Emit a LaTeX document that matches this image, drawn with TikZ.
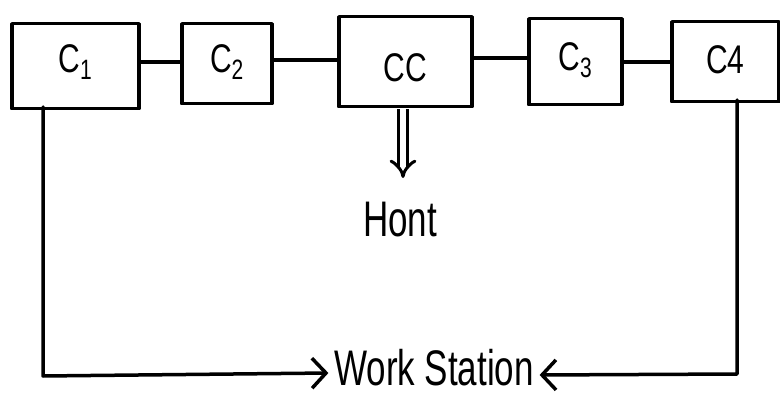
\documentclass[tikz,border=0pt]{standalone}
\usepackage{fontspec}
\setmainfont{Liberation Sans}
\usetikzlibrary{arrows.meta}
\newcommand{\csub}[1]{C\raisebox{-7pt}{\fontsize{28}{28}\selectfont #1}}
\begin{document}
\begin{tikzpicture}[x=1pt,y=-1pt,
  line width=3.5pt, line cap=round, line join=round,
  comp/.style={draw, line width=3.5pt, inner sep=0pt, anchor=north west},
  lbl/.style={font=\fontsize{40}{42}\selectfont},
  big/.style={font=\fontsize{50}{52}\selectfont, inner sep=0pt}]
\useasboundingbox (0,0) rectangle (780,396);
\node[comp, minimum width=127pt, minimum height=85pt] (c1) at (10,22) {};
\node[comp, minimum width=90pt, minimum height=80pt] (c2) at (180,22) {};
\node[comp, minimum width=133pt, minimum height=90pt] (cc) at (337,15) {};
\node[comp, minimum width=93pt, minimum height=86pt] (c3) at (527,17) {};
\node[comp, minimum width=107pt, minimum height=80pt] (c4) at (670,20) {};
\node[lbl] at ([yshift=4pt]c1.center) {\scalebox{0.75}[1]{\csub{1}}};
\node[lbl] at ([yshift=2pt]c2.center) {\scalebox{0.75}[1]{\csub{2}}};
\node[lbl] at ([yshift=-6pt]cc.center) {\scalebox{0.75}[1]{CC}};
\node[lbl] at ([yshift=2pt]c3.center) {\scalebox{0.75}[1]{\csub{3}}};
\node[lbl] at ([yshift=2pt]c4.center) {\scalebox{0.75}[1]{C4}};
\draw (c1.east |- 0,62) -- (c2.west |- 0,62);
\draw (c2.east |- 0,60) -- (cc.west |- 0,60);
\draw (cc.east |- 0,58) -- (c3.west |- 0,58);
\draw (c3.east |- 0,62) -- (c4.west |- 0,62);
\node[big] (host) at (400,220) {\scalebox{0.7}[1]{Hont}};
\coordinate (hs) at (403,109);
\coordinate (he) at (403,178);
\draw[double, double distance=6pt, line width=3pt, line cap=butt, -{Implies[scale=2]}] (hs) -- (he);
\node[big] (ws) at (434,368) {\scalebox{0.7}[1]{Work Station}};
\coordinate (l1) at (43,107);
\coordinate (l2) at (43,376);
\coordinate (r1) at (737,100);
\coordinate (r2) at (737,374);
\draw[-{Straight Barb[length=14pt,width=30pt]}] (l1) -- (l2) -- ([xshift=-4pt]ws.west |- 0,373);
\draw[-{Straight Barb[length=14pt,width=30pt]}] (r1) -- (r2) -- ([xshift=4pt]ws.east |- 0,375);
\end{tikzpicture}
\end{document}
